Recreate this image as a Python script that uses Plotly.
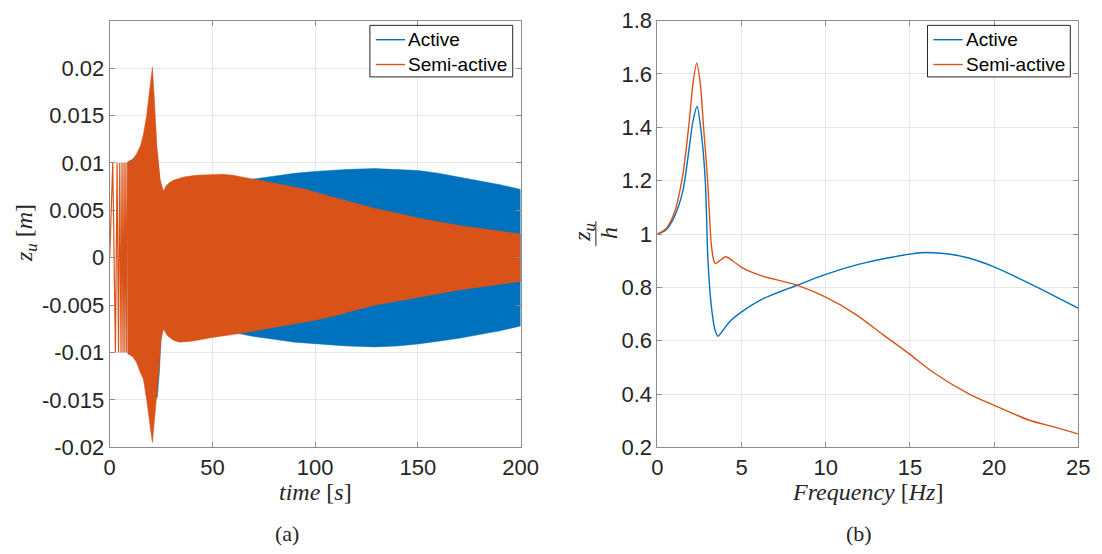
import plotly.graph_objects as go

# ---------------- (a) time response: envelope of z_u [m] ----------------
semi_t_up = [8.8, 11, 13, 15, 16.4, 18, 18.9, 20, 20.8, 21.8, 23, 24.6, 26.2, 27.5, 29, 31.3, 36, 42, 49.5,
             55, 60, 65, 70, 80, 90, 96, 100, 110, 120, 129, 140, 150, 160, 170, 180, 190, 200]
semi_z_up = [0.0101, 0.0103, 0.0109, 0.0118, 0.0130, 0.0150, 0.0167, 0.0188, 0.0201, 0.0165, 0.0117, 0.0082,
             0.0070, 0.0076, 0.0079, 0.0082, 0.0085, 0.0087, 0.0088, 0.0088, 0.0087, 0.0085, 0.0083, 0.0079,
             0.0075, 0.0072, 0.0069, 0.0063, 0.0057, 0.0052, 0.0047, 0.0042, 0.0038, 0.0034, 0.0031, 0.0028, 0.0025]
semi_t_lo = [8.8, 11, 13, 14.7, 16.4, 18, 19, 20, 20.8, 21.8, 23, 24, 24.8, 26, 28, 31, 34, 40, 50, 60, 63,
             70, 80, 90, 100, 110, 120, 129, 140, 150, 160, 170, 180, 190, 200]
semi_z_lo = [-0.0101, -0.0104, -0.0110, -0.0120, -0.0128, -0.0150, -0.0165, -0.0183, -0.0195, -0.0170,
             -0.0140, -0.0118, -0.0090, -0.0075, -0.0082, -0.0087, -0.0089, -0.0088, -0.0084, -0.0081, -0.0080,
             -0.0078, -0.0074, -0.0070, -0.0066, -0.0061, -0.0055, -0.0050, -0.0046, -0.0042, -0.0038, -0.0034,
             -0.0031, -0.0028, -0.0025]
# low-frequency start of the chirp: individual swings
semi_t_start = [0, 1.5, 2.8, 3.6, 4.3, 4.9, 5.5, 6.0, 6.5, 7.0, 7.4, 7.9, 8.3, 8.8]
semi_z_start = [0, 0.0100, -0.0100, 0.0100, -0.0100, 0.0100, -0.0100, 0.0100, -0.0100, 0.0100, -0.0100,
                0.0100, -0.0100, 0.0101]

act_t_up = [8.8, 13, 16.4, 19, 20.5, 22, 23.5, 25, 28, 35, 45, 55, 63, 70, 80, 90, 100, 115, 129, 140, 150,
            160, 170, 180, 190, 200]
act_z_up = [0.0101, 0.0106, 0.0120, 0.0145, 0.0148, 0.0130, 0.0100, 0.0070, 0.0063, 0.0068, 0.0074, 0.0078,
            0.0080, 0.0083, 0.0086, 0.0089, 0.0091, 0.0093, 0.0094, 0.0093, 0.0092, 0.0089, 0.0085, 0.0081,
            0.0077, 0.0072]
act_t_lo = [8.8, 13, 16.4, 19, 20.5, 22, 23.2, 24.2, 25, 27, 35, 45, 55, 63, 70, 80, 90, 100, 115, 129, 140,
            150, 160, 170, 180, 190, 200]
act_z_lo = [-0.0101, -0.0106, -0.0120, -0.0145, -0.0150, -0.0150, -0.0147, -0.0120, -0.0085, -0.0066,
            -0.0068, -0.0074, -0.0078, -0.0080, -0.0083, -0.0086, -0.0089, -0.0091, -0.0093, -0.0094, -0.0093,
            -0.0091, -0.0088, -0.0085, -0.0081, -0.0077, -0.0072]

# ---------------- (b) frequency response z_u / h ----------------
act_f = [0, 0.5, 1.0, 1.5, 1.9, 2.1, 2.35, 2.6, 2.84, 3.0, 3.2, 3.4, 3.6, 3.9, 4.3, 5.0, 6.2, 8.3, 10.0,
         12.0, 14.0, 15.7, 17.4, 18.5, 20, 22.1, 25]
act_r = [1.000, 1.015, 1.065, 1.160, 1.330, 1.420, 1.478, 1.380, 1.200, 0.900, 0.730, 0.645, 0.617, 0.640,
         0.672, 0.708, 0.755, 0.808, 0.849, 0.887, 0.914, 0.930, 0.924, 0.910, 0.877, 0.815, 0.722]
semi_f = [0, 0.5, 1.0, 1.5, 1.9, 2.1, 2.33, 2.55, 2.75, 2.98, 3.2, 3.35, 3.45, 3.7, 4.05, 4.5, 5.0, 6.2,
          8.2, 10.0, 11.8, 13.4, 15.0, 16.4, 18.5, 20, 22.1, 23.5, 25]
semi_r = [1.000, 1.020, 1.080, 1.220, 1.430, 1.560, 1.640, 1.560, 1.390, 1.200, 0.960, 0.900, 0.889, 0.900,
          0.915, 0.898, 0.875, 0.843, 0.810, 0.763, 0.698, 0.623, 0.549, 0.481, 0.401, 0.358, 0.302, 0.278,
          0.251]

series_names = ["Active", "Semi-active"]
blue = "#0072BD"
orange = "#D95319"

time_ticks = [0, 50, 100, 150, 200]
z_ticks = [-0.02, -0.015, -0.01, -0.005, 0, 0.005, 0.01, 0.015, 0.02]
z_ticktext = ["-0.02", "-0.015", "-0.01", "-0.005", "0", "0.005", "0.01", "0.015", "0.02"]
f_ticks = [0, 5, 10, 15, 20, 25]
r_ticks = [0.2, 0.4, 0.6, 0.8, 1.0, 1.2, 1.4, 1.6, 1.8]
r_ticktext = ["0.2", "0.4", "0.6", "0.8", "1", "1.2", "1.4", "1.6", "1.8"]

W, H = 1102, 554
def px(x):
    return x / W
def py(y):
    return 1 - y / H

# layout geometry (pixels)
AX1 = (106, 526)
AX2 = (666, 1096)
TOP, BOT = 9, 456

fig = go.Figure()

fig.add_trace(go.Scatter(x=act_t_up + act_t_lo[::-1], y=act_z_up + act_z_lo[::-1], fill="toself",
                         fillcolor=blue, line=dict(color=blue, width=0.5), mode="lines",
                         hoverinfo="skip", xaxis="x", yaxis="y"))
fig.add_trace(go.Scatter(x=semi_t_up + semi_t_lo[::-1], y=semi_z_up + semi_z_lo[::-1], fill="toself",
                         fillcolor=orange, line=dict(color=orange, width=0.5), mode="lines",
                         hoverinfo="skip", xaxis="x", yaxis="y"))
fig.add_trace(go.Scatter(x=semi_t_start, y=semi_z_start, mode="lines",
                         line=dict(color=orange, width=1.2), hoverinfo="skip", xaxis="x", yaxis="y"))

fig.add_trace(go.Scatter(x=act_f, y=act_r, mode="lines", name=series_names[0],
                         line=dict(color=blue, width=1.4, shape="spline", smoothing=0.8),
                         xaxis="x2", yaxis="y2"))
fig.add_trace(go.Scatter(x=semi_f, y=semi_r, mode="lines", name=series_names[1],
                         line=dict(color=orange, width=1.4, shape="spline", smoothing=0.8),
                         xaxis="x2", yaxis="y2"))

axis_common = dict(showline=True, mirror="ticks", linecolor="#8c8c8c", linewidth=1, ticks="inside",
                   ticklen=5, tickcolor="#8c8c8c", showgrid=True, gridcolor="#e6e6e6", gridwidth=1,
                   zeroline=False, ticklabeloverflow="allow",
                   tickfont=dict(family="Liberation Sans, Arial", size=22, color="#262626"))

ydom = [py(BOT), py(TOP)]
fig.update_layout(
    width=W, height=H, margin=dict(l=0, r=0, t=0, b=0), showlegend=False,
    paper_bgcolor="white", plot_bgcolor="white",
    xaxis=dict(domain=[px(AX1[0]), px(AX1[1])], range=[0, 200], tickvals=time_ticks, anchor="y",
               **axis_common),
    yaxis=dict(domain=ydom, range=[-0.02, 0.025], tickvals=z_ticks, ticktext=z_ticktext, anchor="x",
               **axis_common),
    xaxis2=dict(domain=[px(AX2[0]), px(AX2[1])], range=[0, 25], tickvals=f_ticks, anchor="y2",
                **axis_common),
    yaxis2=dict(domain=ydom, range=[0.2, 1.8], tickvals=r_ticks, ticktext=r_ticktext, anchor="x2",
                **axis_common),
)

# ---- manual MATLAB-style legends ----
LEG_W, LEG_H, INSET = 146, 54, 8
for ax_right in (AX1[1], AX2[1]):
    x1 = ax_right - INSET
    x0 = x1 - LEG_W
    y0 = TOP + 5
    fig.add_shape(type="rect", xref="paper", yref="paper", x0=px(x0), x1=px(x1), y0=py(y0 + LEG_H), y1=py(y0),
                  line=dict(color="#262626", width=1), fillcolor="white", layer="above")
    for i, (name, col) in enumerate(zip(series_names, [blue, orange])):
        yc = y0 + 15 + i * 26
        fig.add_shape(type="line", xref="paper", yref="paper", x0=px(x0 + 6), x1=px(x0 + 36), y0=py(yc),
                      y1=py(yc), line=dict(color=col, width=1.4), layer="above")
        fig.add_annotation(xref="paper", yref="paper", x=px(x0 + 37), y=py(yc), text=name, showarrow=False,
                           xanchor="left", yanchor="middle",
                           font=dict(family="Liberation Sans, Arial", size=19, color="black"))

serif = dict(family="Liberation Serif, Times New Roman, serif", size=24, color="#262626")
ann = [
    dict(text="<i>time</i> [<i>s</i>]", x=px((AX1[0] + AX1[1]) / 2), y=py(503)),
    dict(text="<i>Frequency</i> [<i>Hz</i>]", x=px((AX2[0] + AX2[1]) / 2), y=py(503)),
    dict(text="<i>z<sub>u</sub></i> [<i>m</i>]", x=px(20), y=py(232), textangle=-90),
    dict(text="<i>z<sub>u</sub></i>", x=px(590), y=py(231), textangle=-90),
    dict(text="<i>h</i>", x=px(616), y=py(232), textangle=-90),
]
for a in ann:
    fig.add_annotation(xref="paper", yref="paper", showarrow=False, xanchor="center", yanchor="middle",
                       font=serif, **a)
for lab, xx in (("(a)", 287), ("(b)", 872)):
    fig.add_annotation(xref="paper", yref="paper", showarrow=False, xanchor="center", yanchor="middle",
                       x=px(xx), y=py(546), text=lab,
                       font=dict(family="Liberation Serif, Times New Roman, serif", size=22, color="#262626"))

fig.add_shape(type="line", xref="paper", yref="paper", x0=px(603), x1=px(603), y0=py(219), y1=py(245),
              line=dict(color="#262626", width=1))

fig.write_html("out.html")
